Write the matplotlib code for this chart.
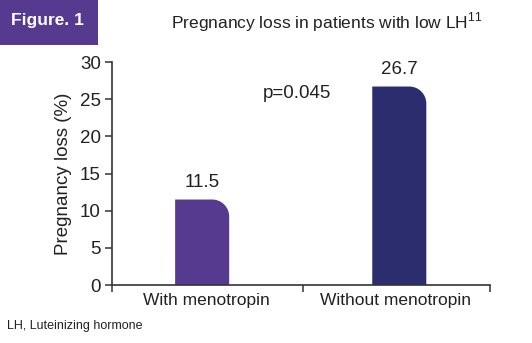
import matplotlib
matplotlib.use("Agg")
import matplotlib.pyplot as plt
from matplotlib.path import Path
from matplotlib.patches import PathPatch, Rectangle

# Data
categories = ["With menotropin", "Without menotropin"]
values = [11.5, 26.7]
value_labels = ["11.5", "26.7"]
bar_colors = ["#553a8f", "#2b2d6e"]
y_ticks = [0, 5, 10, 15, 20, 25, 30]

plt.rcParams["font.family"] = ["Liberation Sans Narrow", "Liberation Sans", "DejaVu Sans"]
text_color = "#222222"

fig = plt.figure(figsize=(5.32, 3.43), dpi=100)
ax = fig.add_axes([112 / 532, 58 / 343, 378 / 532, 223 / 343])

label_pos = [0.5, 1.5]
bar_pos = [0.477, 1.52]
bars = ax.bar(bar_pos, values, width=0.286, color=bar_colors)

ax.set_xlim(0, 2)
ax.set_ylim(0, 30)
ax.set_yticks(y_ticks)
ax.set_yticklabels([str(t) for t in y_ticks], fontsize=13.5, color=text_color)
ax.set_xticks([0, 1.01, 2])
ax.set_xticklabels([])
ax.set_xticks(label_pos, minor=True)
ax.set_xticklabels(categories, minor=True, fontsize=12.5, color=text_color)
ax.tick_params(axis="x", which="minor", length=0, pad=6)
ax.tick_params(axis="x", which="major", length=5, width=1.1, direction="out", color="#333333")
ax.tick_params(axis="y", length=5, width=1.1, direction="out", color="#333333", pad=3)
for s in ["top", "right"]:
    ax.spines[s].set_visible(False)
for s in ["left", "bottom"]:
    ax.spines[s].set_linewidth(1.2)
    ax.spines[s].set_color("#333333")
    ax.spines[s].set_zorder(5)

ax.set_ylabel("Pregnancy loss (%)", fontsize=13.5, color=text_color, labelpad=6)

# Replace each plain rectangle with one whose top-right corner is rounded
fig.canvas.draw()
radius = 17.0
for rect in bars:
    x0, y0 = rect.get_x(), rect.get_y()
    x1, y1 = x0 + rect.get_width(), y0 + rect.get_height()
    (px0, py0), (px1, py1) = ax.transData.transform([(x0, y0), (x1, y1)])
    r = min(radius, (px1 - px0), (py1 - py0))
    k = 0.5523 * r
    verts = [
        (px0, py0), (px1, py0), (px1, py1 - r),
        (px1, py1 - r + k), (px1 - r + k, py1), (px1 - r, py1),
        (px0, py1), (px0, py0),
    ]
    codes = [Path.MOVETO, Path.LINETO, Path.LINETO,
             Path.CURVE4, Path.CURVE4, Path.CURVE4,
             Path.LINETO, Path.CLOSEPOLY]
    patch = PathPatch(Path(verts, codes), facecolor=rect.get_facecolor(),
                      edgecolor="none", transform=None, zorder=2)
    rect.set_visible(False)
    ax.add_artist(patch)

for xp, v, lab in zip(bar_pos, values, value_labels):
    ax.annotate(lab, (xp, v), xytext=(0, 6), textcoords="offset points",
                ha="center", va="bottom", fontsize=13.5, color=text_color)

ax.text((263 - 112) / 378, (281 - 89) / 223, "p=0.045", transform=ax.transAxes,
        fontsize=13.5, color=text_color, ha="left", va="center")

# Header badge and title
fig.patches.append(Rectangle((0, 1 - 45 / 343), 98 / 532, 45 / 343,
                             transform=fig.transFigure, facecolor="#553a8f",
                             edgecolor="none", zorder=0))
fig.text(47 / 532, 1 - 21 / 343, "Figure. 1", fontsize=12.5, fontweight="bold",
         color="white", ha="center", va="center")
fig.text(327 / 532, 1 - 22 / 343, r"Pregnancy loss in patients with low LH$^{\mathregular{11}}$",
         fontsize=12.5, color=text_color, ha="center", va="center")
fig.text(7 / 532, 1 - 326 / 343, "LH, Luteinizing hormone", fontsize=9,
         color=text_color, ha="left", va="center")

fig.savefig("out.png", dpi=100)
